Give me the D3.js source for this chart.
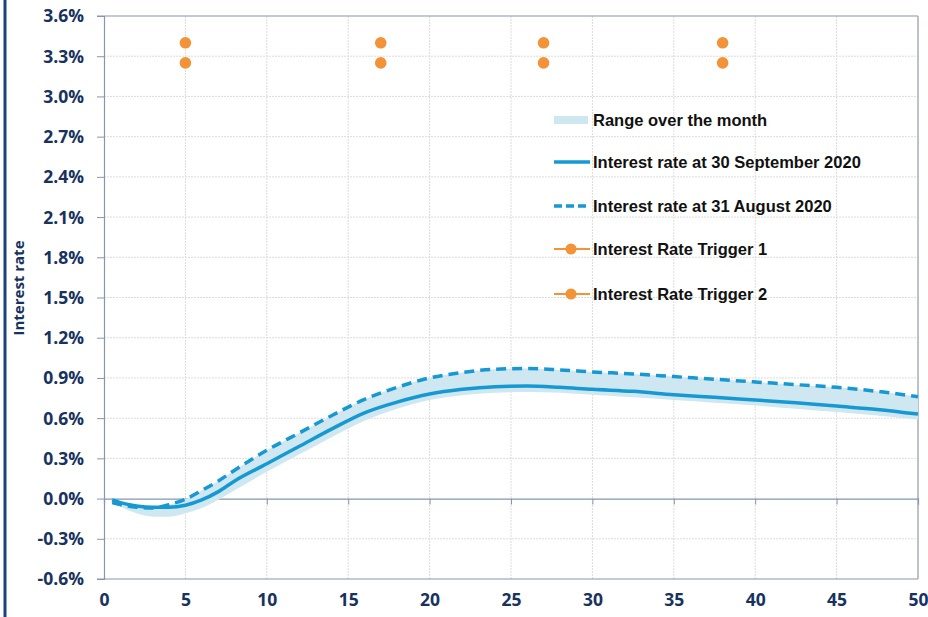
<!DOCTYPE html>
<html>
<head>
<meta charset="utf-8">
<script src="https://cdn.jsdelivr.net/npm/d3@7"></script>
<style>
  html, body { margin: 0; padding: 0; background: #fff; }
  svg { display: block; }
</style>
</head>
<body>
<svg id="chart" width="928" height="617"></svg>
<script>
// ---- data ----
const tenors    = [0.5, 1, 2, 3, 4, 5, 6, 7, 8, 10, 12, 14, 16, 18, 20, 22, 24, 26, 28, 30, 32.5, 35, 37.5, 40, 42.5, 45, 47.5, 50];
const rateSep30 = [-0.01, -0.03, -0.055, -0.065, -0.065, -0.05, -0.01, 0.05, 0.13, 0.26, 0.39, 0.52, 0.64, 0.72, 0.78, 0.815, 0.835, 0.84, 0.83, 0.815, 0.80, 0.775, 0.755, 0.735, 0.715, 0.69, 0.665, 0.63];
const rateAug31 = [-0.03, -0.045, -0.065, -0.07, -0.045, -0.005, 0.06, 0.13, 0.21, 0.36, 0.49, 0.62, 0.74, 0.83, 0.90, 0.94, 0.965, 0.97, 0.96, 0.945, 0.93, 0.91, 0.89, 0.87, 0.85, 0.83, 0.80, 0.76];
const rangeLow  = [-0.03, -0.06, -0.11, -0.135, -0.135, -0.11, -0.07, -0.01, 0.06, 0.20, 0.33, 0.46, 0.58, 0.67, 0.735, 0.77, 0.79, 0.795, 0.79, 0.775, 0.755, 0.735, 0.715, 0.695, 0.67, 0.645, 0.62, 0.59];
const rangeHigh = [-0.005, -0.03, -0.05, -0.06, -0.045, -0.005, 0.06, 0.13, 0.21, 0.36, 0.49, 0.62, 0.74, 0.83, 0.90, 0.94, 0.965, 0.97, 0.96, 0.945, 0.93, 0.91, 0.89, 0.87, 0.85, 0.83, 0.80, 0.76];
const triggerTenors = [5, 17, 27, 38];
const trigger1 = [3.4, 3.4, 3.4, 3.4];
const trigger2 = [3.25, 3.25, 3.25, 3.25];
const yTickValues = [-0.6, -0.3, 0.0, 0.3, 0.6, 0.9, 1.2, 1.5, 1.8, 2.1, 2.4, 2.7, 3.0, 3.3, 3.6];
const xTickValues = [0, 5, 10, 15, 20, 25, 30, 35, 40, 45, 50];
const legendLabels = ["Range over the month", "Interest rate at 30 September 2020", "Interest rate at 31 August 2020", "Interest Rate Trigger 1", "Interest Rate Trigger 2"];
const yTitle = "Interest rate";

// ---- styles ----
const NAVY = "#17325f";
const BLUE = "#1699d3";
const BAND = "#cfe7f0";
const ORANGE = "#f39237";
const AXIS = "#8596b0";
const GRID = "#dcdcdc";

const svg = d3.select("#chart");
const x = d3.scaleLinear().domain([0, 50]).range([104, 918]);
const y = d3.scaleLinear().domain([-0.6, 3.6]).range([579, 16]);

// left dark border
svg.append("line").attr("x1", 5).attr("x2", 5).attr("y1", 0).attr("y2", 617)
  .attr("stroke", "#1c4379").attr("stroke-width", 3);

// horizontal gridlines
svg.append("g").selectAll("line").data(yTickValues.filter(v => v !== 0 && v !== -0.6 && v !== 3.6)).join("line")
  .attr("x1", x(0)).attr("x2", x(50)).attr("y1", d => y(d)).attr("y2", d => y(d))
  .attr("stroke", GRID).attr("stroke-width", 1).attr("stroke-dasharray", "2,1");
// vertical gridlines
svg.append("g").selectAll("line").data(xTickValues.filter(v => v > 0 && v < 50)).join("line")
  .attr("x1", d => x(d)).attr("x2", d => x(d)).attr("y1", y(3.6)).attr("y2", y(-0.6))
  .attr("stroke", GRID).attr("stroke-width", 1).attr("stroke-dasharray", "2,1");

// frame
svg.append("line").attr("x1", x(0) - 7).attr("x2", x(50)).attr("y1", y(3.6)).attr("y2", y(3.6)).attr("stroke", AXIS).attr("stroke-width", 1.2);
svg.append("line").attr("x1", x(0) - 7).attr("x2", x(50)).attr("y1", y(-0.6)).attr("y2", y(-0.6)).attr("stroke", AXIS).attr("stroke-width", 1.2);
svg.append("line").attr("x1", x(50)).attr("x2", x(50)).attr("y1", y(3.6)).attr("y2", y(-0.6)).attr("stroke", "#a8adb5").attr("stroke-width", 1.5);

// y axis
const yAxis = svg.append("g").attr("transform", `translate(${x(0)},0)`)
  .call(d3.axisLeft(y).tickValues(yTickValues).tickFormat(d => d.toFixed(1) + "%").tickSize(7).tickPadding(13));
yAxis.select(".domain").attr("stroke", AXIS).attr("stroke-width", 1.2);
yAxis.selectAll(".tick line").attr("stroke", AXIS);
yAxis.selectAll("text").attr("fill", NAVY).style("font-family", "'Open Sans', sans-serif")
  .style("font-weight", "700").style("font-size", "17.5px").attr("dy", "0.34em");

// x axis at zero
const xAxis = svg.append("g").attr("transform", `translate(0,${y(0)})`)
  .call(d3.axisBottom(x).tickValues(xTickValues).tickFormat(d3.format("d")).tickSize(6).tickPadding(0));
xAxis.select(".domain").attr("stroke", AXIS).attr("stroke-width", 1.2);
xAxis.selectAll(".tick line").attr("stroke", AXIS);
xAxis.selectAll("text").attr("fill", NAVY).style("font-family", "'Open Sans', sans-serif")
  .style("font-weight", "700").style("font-size", "17.5px")
  .attr("y", y(-0.6) - y(0) + 27).attr("dy", "0");

// y title
svg.append("text").attr("transform", `translate(24,288) rotate(-90)`).attr("text-anchor", "middle")
  .attr("fill", NAVY).style("font-family", "'Open Sans', sans-serif").style("font-weight", "700").style("font-size", "15px")
  .text(yTitle);

// data
const pts = tenors.map((t, i) => ({ t, sep: rateSep30[i], aug: rateAug31[i], lo: rangeLow[i], hi: rangeHigh[i] }));
const curve = d3.curveMonotoneX;
svg.append("path").datum(pts)
  .attr("d", d3.area().x(d => x(d.t)).y0(d => y(d.lo)).y1(d => y(d.hi)).curve(curve))
  .attr("fill", BAND);
svg.append("path").datum(pts)
  .attr("d", d3.line().x(d => x(d.t)).y(d => y(d.aug)).curve(curve))
  .attr("fill", "none").attr("stroke", BLUE).attr("stroke-width", 3.5).attr("stroke-dasharray", "10,6");
svg.append("path").datum(pts)
  .attr("d", d3.line().x(d => x(d.t)).y(d => y(d.sep)).curve(curve))
  .attr("fill", "none").attr("stroke", BLUE).attr("stroke-width", 3.5);

// triggers
svg.append("g").selectAll("circle").data(triggerTenors.map((t, i) => ({ t, v: trigger1[i] }))).join("circle")
  .attr("cx", d => x(d.t)).attr("cy", d => y(d.v)).attr("r", 5.8).attr("fill", ORANGE);
svg.append("g").selectAll("circle").data(triggerTenors.map((t, i) => ({ t, v: trigger2[i] }))).join("circle")
  .attr("cx", d => x(d.t)).attr("cy", d => y(d.v)).attr("r", 5.8).attr("fill", ORANGE);

// legend
const legY = [120, 162, 206, 249, 294];
const lg = svg.append("g");
legendLabels.forEach((lab, i) => {
  const cy = legY[i];
  if (i === 0) {
    lg.append("rect").attr("x", 554).attr("y", cy - 4).attr("width", 34).attr("height", 8).attr("fill", BAND);
  } else if (i === 1 || i === 2) {
    lg.append("line").attr("x1", 554).attr("x2", 590).attr("y1", cy).attr("y2", cy)
      .attr("stroke", BLUE).attr("stroke-width", 3.5).attr("stroke-dasharray", i === 2 ? "8,4" : null);
  } else {
    lg.append("line").attr("x1", 554).attr("x2", 590).attr("y1", cy).attr("y2", cy).attr("stroke", ORANGE).attr("stroke-width", 2);
    lg.append("circle").attr("cx", 571).attr("cy", cy).attr("r", 5.5).attr("fill", ORANGE);
  }
  lg.append("text").attr("x", 593).attr("y", cy).attr("dy", "0.36em")
    .attr("fill", "#111").style("font-family", "'Liberation Sans', Arial, sans-serif")
    .style("font-weight", "700").style("font-size", "16.5px").text(lab);
});
</script>
</body>
</html>
